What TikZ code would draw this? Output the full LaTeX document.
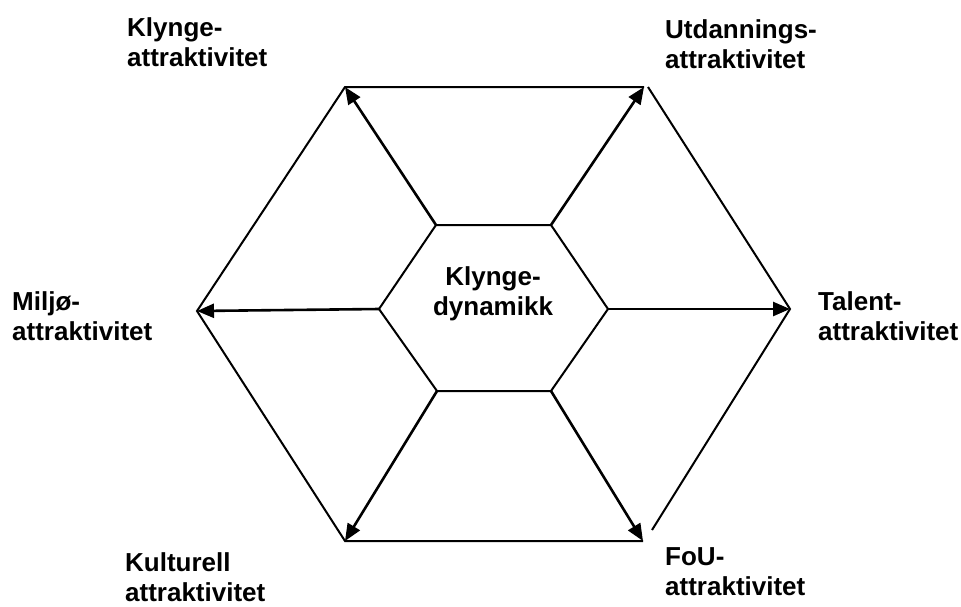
\documentclass[tikz,border=0pt]{standalone}
\usepackage{fontspec}
\setmainfont{Liberation Sans}
\usetikzlibrary{arrows.meta}
\tikzstyle{attr} = [anchor = north west, align = left, inner sep = 0,
  font = \fontsize{26}{30.5}\selectfont\bfseries]
\tikzstyle{core} = [anchor = north, align = center, inner sep = 0,
  font = \fontsize{26}{30.5}\selectfont\bfseries]
\tikzstyle{hex} = [line width = 2, draw = black, line join = miter]
\tikzstyle{spoke} = [
  line width = 2.6, draw = black,
  -{Triangle[length = 17, width = 14]}
]

\begin{document}
\begin{tikzpicture}[x = 1pt, y = -1pt]
    \useasboundingbox [fill = white] (0, 0) rectangle (961, 606);
    % outer hexagon
    \coordinate (oh-1) at (345, 87);
    \coordinate (oh-2) at (644, 87);
    \coordinate (oh-2b) at (648, 87);
    \coordinate (oh-3) at (790, 309);
    \coordinate (oh-4b) at (652, 530);
    \coordinate (oh-4) at (643, 541);
    \coordinate (oh-5) at (345, 541);
    \coordinate (oh-6) at (197, 311);
    % inner hexagon
    \coordinate (ih-1) at (436, 225);
    \coordinate (ih-2) at (551, 225);
    \coordinate (ih-3) at (608, 309);
    \coordinate (ih-4) at (551, 391);
    \coordinate (ih-5) at (437, 391);
    \coordinate (ih-6) at (379, 309);
    \draw [hex] (oh-4) -- (oh-5) -- (oh-6) -- (oh-1) -- (oh-2);
    \draw [hex] (oh-2b) -- (oh-3) -- (oh-4b);
    \draw [hex] (ih-1) -- (ih-2) -- (ih-3) -- (ih-4) -- (ih-5) -- (ih-6) -- cycle;
    \foreach \i in {1, ..., 6}
      \draw [spoke] (ih-\i) -- (oh-\i);
    \node [core] (dyn) at (493, 266) {Klynge-\\dynamikk};
    \node [attr] (a-1) at (127, 17) {Klynge-\\attraktivitet};
    \node [attr] (a-2) at (665, 19) {Utdannings-\\attraktivitet};
    \node [attr] (a-3) at (818, 291) {Talent-\\attraktivitet};
    \node [attr] (a-4) at (665, 547) {FoU-\\attraktivitet};
    \node [attr] (a-5) at (125, 552) {Kulturell\\attraktivitet};
    \node [attr] (a-6) at (12, 291) {Miljø-\\attraktivitet};
  \end{tikzpicture}
\end{document}
